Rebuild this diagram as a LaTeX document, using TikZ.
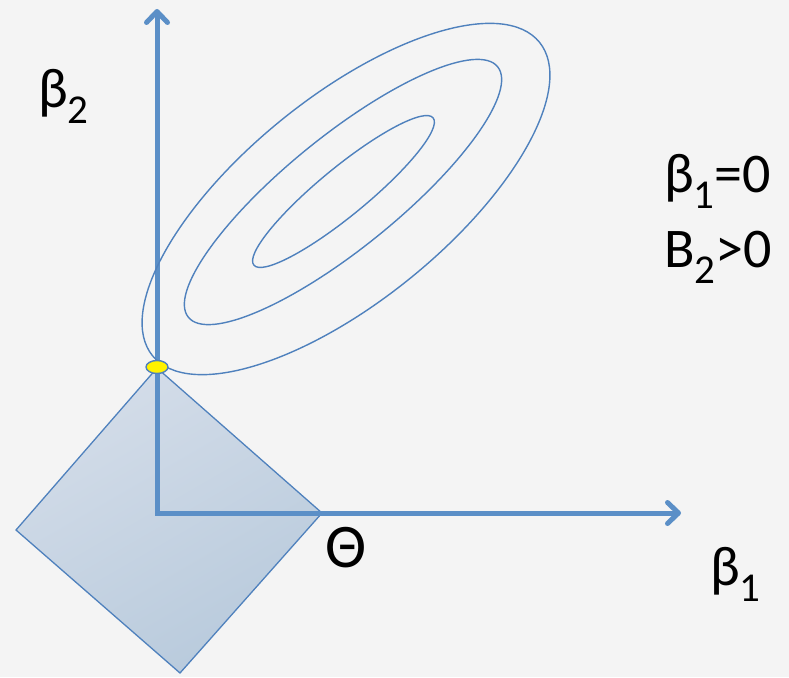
\documentclass[tikz,border=0pt]{standalone}
\usepackage{fontspec}
\setmainfont{Carlito}
\usetikzlibrary{arrows.meta,shapes.geometric}
\definecolor{bg}{RGB}{244,244,244}
\definecolor{axisblue}{RGB}{91,143,199}
\definecolor{lineblue}{RGB}{79,129,189}
\definecolor{fillA}{RGB}{212,221,233}
\definecolor{fillB}{RGB}{184,202,220}
\newcommand{\mysub}[1]{\raisebox{-0.3em}{\fontsize{41}{44}\selectfont #1}}
\begin{document}
\begin{tikzpicture}[x=1pt,y=-1pt,
  axis/.style={draw=axisblue, line width=5pt, line join=miter,
    {Straight Barb[length=11pt,width=21pt,line cap=round,line join=round]}-{Straight Barb[length=11pt,width=21pt,line cap=round,line join=round]}},
  contour/.style={draw=lineblue, line width=1.4pt},
  lbl/.style={inner sep=0pt, anchor=base west, font=\fontsize{56}{66}\selectfont, text=black}]
\fill[bg] (0,0) rectangle (789,677);
\useasboundingbox (0,0) rectangle (789,677);
% constraint region (diamond)
\coordinate (dt) at (157,368);
\coordinate (dr) at (322,513);
\coordinate (db) at (180,673);
\coordinate (dl) at (16,530);
\draw[draw=lineblue, line width=1.3pt, line join=miter, left color=fillA, right color=fillB, shading angle=30]
  (dt) -- (dr) -- (db) -- (dl) -- cycle;
% axes
\coordinate (o) at (157,513);
\coordinate (xend) at (681,513);
\coordinate (yend) at (157,9);
\draw[axis] (yend) -- (o) -- (xend);
% contours
\coordinate (c1) at (346,199);
\coordinate (c2) at (343,192);
\coordinate (c3) at (343.5,191.5);
\draw[contour, rotate around={39:(c1)}] (c1) ellipse [x radius=249pt, y radius=102pt];
\draw[contour, rotate around={39:(c2)}] (c2) ellipse [x radius=199pt, y radius=56pt];
\draw[contour, rotate around={39.4:(c3)}] (c3) ellipse [x radius=116pt, y radius=24pt];
% solution point
\node[ellipse, draw=lineblue, line width=1.4pt, fill=yellow, minimum width=22pt, minimum height=13pt, inner sep=0pt] (dot) at (157,367) {};
% labels
\node[lbl] (lb2) at (38,107) {β\mysub{2}};
\node[lbl] (lc1) at (664,192) {β\mysub{1}=0};
\node[lbl] (lc2) at (664,267) {B\mysub{2}>0};
\node[lbl, font=\fontsize{62}{72}\selectfont] (lth) at (325,567) {Θ};
\node[lbl] (lb1) at (710,585) {β\mysub{1}};
\end{tikzpicture}
\end{document}
